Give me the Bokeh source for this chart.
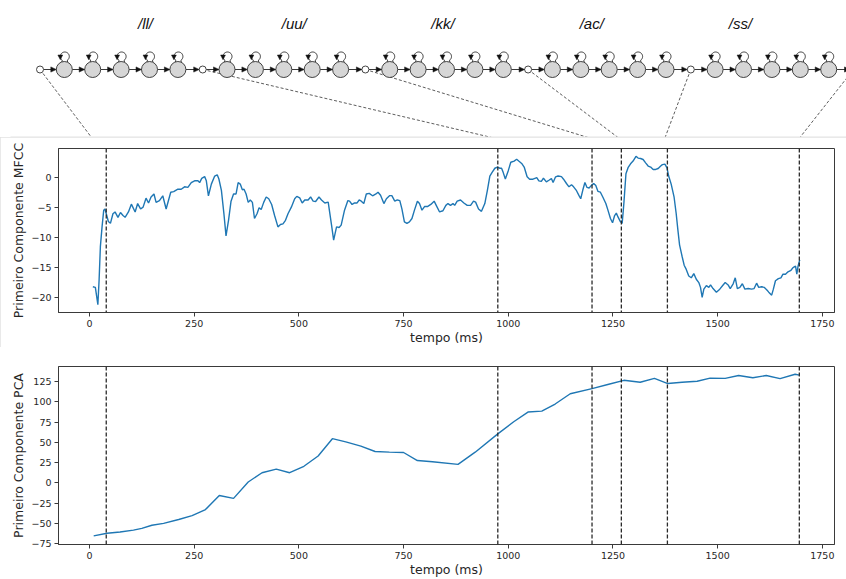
import numpy as np
from bokeh.plotting import figure
from bokeh.layouts import column
from bokeh.models import Range1d, FixedTicker, Span, CustomJSTickFormatter
from bokeh.embed import file_html
from bokeh.resources import INLINE
from bokeh.core.properties import value

# ---------------- data ----------------
phones = ["/ll/", "/uu/", "/kk/", "/ac/", "/ss/"]
states_per_phone = 5
boundaries_ms = [40, 975, 1200, 1270, 1380, 1695]

t_mfcc = [8, 14, 20, 23, 26, 30, 34, 37, 42, 45, 50, 56, 61, 68, 74, 80, 85, 93, 100, 109,
          115, 122, 128, 135, 141, 147, 154, 159, 167, 175, 183, 194, 201, 211, 219, 227, 235, 243, 251, 259,
          263, 268, 275, 279, 284, 291, 299, 305, 309, 315, 321, 326, 332, 338, 344, 350, 355, 360, 365, 369,
          374, 379, 384, 389, 394, 400, 405, 410, 416, 422, 428, 435, 442, 450, 456, 462, 468, 474, 482, 490,
          495, 502, 508, 514, 522, 528, 534, 540, 548, 554, 562, 570, 578, 583, 590, 596, 601, 609, 617, 621,
          627, 633, 639, 644, 649, 655, 661, 668, 676, 684, 689, 695, 703, 709, 717, 722, 729, 735, 741, 746,
          752, 758, 764, 770, 776, 783, 788, 794, 800, 807, 815, 823, 828, 836, 844, 851, 856, 862, 868, 872,
          878, 886, 894, 902, 910, 917, 922, 929, 936, 944, 950, 956, 961, 968, 974, 980, 984, 988, 993, 1000,
          1006, 1014, 1020, 1025, 1032, 1038, 1045, 1051, 1059, 1065, 1068, 1073, 1079, 1084, 1091, 1097, 1103, 1107, 1113, 1119,
          1127, 1132, 1139, 1145, 1151, 1156, 1163, 1169, 1173, 1178, 1183, 1188, 1193, 1198, 1204, 1209, 1214, 1220, 1226, 1233,
          1238, 1244, 1249, 1254, 1258, 1262, 1268, 1272, 1276, 1281, 1286, 1292, 1298, 1305, 1310, 1316, 1322, 1328, 1334, 1340,
          1346, 1352, 1358, 1364, 1368, 1374, 1379, 1383, 1389, 1396, 1401, 1405, 1409, 1415, 1420, 1425, 1431, 1437, 1443, 1449,
          1455, 1459, 1463, 1467, 1473, 1479, 1483, 1489, 1497, 1505, 1513, 1518, 1525, 1530, 1537, 1542, 1547, 1553, 1559, 1565,
          1573, 1581, 1587, 1593, 1598, 1605, 1611, 1617, 1622, 1629, 1633, 1638, 1645, 1651, 1656, 1662, 1668, 1675, 1680, 1686, 1689, 1692, 1696]
mfcc = [-18.2, -18.3, -21.2, -17.0, -11.5, -8.2, -5.4, -5.2, -6.5, -7.3, -7.6, -6.0, -5.7, -6.6, -5.8, -6.3, -6.6, -5.7, -4.4, -5.7,
        -4.3, -5.2, -4.9, -3.4, -4.2, -3.2, -2.7, -4.1, -3.8, -3.0, -5.2, -2.4, -2.3, -1.9, -1.9, -1.5, -1.6, -0.8, -0.5, -0.5,
        -0.8, -0.1, 0.2, -0.5, -3.0, -1.05, 0.3, 0.5, -0.2, -2.1, -6.0, -9.7, -7.1, -3.9, -2.7, -2.7, -0.8, -1.05, -2.0, -1.9,
        -2.7, -4.1, -3.7, -4.1, -6.8, -6.0, -5.0, -5.3, -4.1, -3.2, -3.5, -4.45, -6.3, -8.2, -7.8, -7.7, -7.1, -6.0, -4.9, -3.5,
        -3.1, -3.35, -4.2, -3.7, -3.7, -3.2, -3.9, -3.95, -3.2, -3.7, -4.2, -4.06, -7.9, -10.4, -8.2, -8.3, -7.9, -5.4, -3.8, -3.9,
        -4.45, -4.2, -4.2, -3.7, -3.9, -4.3, -2.7, -2.6, -3.0, -2.7, -2.4, -2.9, -4.3, -3.5, -2.97, -2.97, -3.9, -3.7, -3.8, -5.2,
        -7.35, -7.6, -7.35, -6.8, -5.4, -3.9, -4.3, -5.4, -4.8, -4.8, -4.45, -3.9, -4.6, -5.7, -5.5, -4.6, -4.3, -4.6, -4.3, -4.6,
        -3.9, -3.7, -4.2, -4.6, -4.6, -3.9, -4.06, -5.2, -5.6, -4.3, -2.15, 0.3, 0.87, 1.6, 1.8, 1.6, 1.6, 0.87, -0.2, 1.2,
        2.6, 2.8, 3.1, 2.8, 2.4, 1.8, 0.17, -0.23, -0.23, -0.06, 0.05, -0.5, -0.6, -0.06, -0.67, -0.4, -0.12, -0.78, 0.17, 0.3,
        0.2, -0.23, -0.95, -1.5, -1.16, -1.5, -2.15, -2.97, -3.5, -2.04, -0.78, -1.6, -1.7, -1.3, -0.95, -1.3, -2.26, -2.4, -3.24, -4.3,
        -5.4, -6.8, -7.5, -6.3, -5.9, -6.53, -7.35, -7.6, -4.3, 0.67, 1.7, 2.35, 2.8, 3.6, 3.3, 3.23, 3.06, 2.5, 1.97, 1.8,
        1.4, 1.4, 1.56, 1.97, 2.2, 2.3, 1.67, 0.3, -1.05, -3.24, -6.0, -8.7, -11.2, -13.1, -14.6, -15.3, -16.4, -16.7, -16.0, -16.95,
        -17.5, -18.3, -19.96, -18.6, -18.0, -18.3, -17.9, -18.5, -19.1, -18.6, -17.9, -17.5, -17.9, -18.5, -17.7, -16.7, -18.5, -18.3, -17.7, -18.6,
        -18.5, -18.6, -18.5, -17.6, -18.3, -18.2, -18.3, -18.7, -19.1, -19.6, -18.6, -17.2, -16.85, -16.7, -16.1, -16.1, -15.7, -15.45, -15.0, -14.75, -16.1, -14.75, -13.7]

t_pca = [10, 42, 73, 105, 125, 149, 177, 213, 245, 277,
         310, 344, 379, 412, 446, 478, 512, 546, 580, 612,
         648, 682, 716, 750, 783, 819, 880, 921, 975, 1013,
         1047, 1080, 1112, 1148, 1200, 1240, 1276, 1315, 1349, 1381,
         1415, 1451, 1482, 1518, 1550, 1584, 1616, 1649, 1685, 1695]
pca = [-65.2, -62.0, -60.4, -58.1, -56.0, -52.1, -49.8, -45.0, -40.3, -32.8,
       -15.4, -19.0, 1.2, 12.6, 17.0, 12.6, 20.5, 33.2, 54.5, 50.5,
       45.4, 38.7, 37.9, 37.5, 27.6, 26.1, 22.9, 37.9, 60.4, 75.4,
       87.3, 88.5, 97.2, 109.8, 116.1, 121.6, 126.4, 124.0, 128.8, 122.4,
       124.0, 125.2, 129.1, 128.8, 132.3, 129.5, 132.3, 128.4, 133.9, 132.7]

x_ticks = [0, 250, 500, 750, 1000, 1250, 1500, 1750]
mfcc_ticks = [-20, -15, -10, -5, 0]
pca_ticks = [-75, -50, -25, 0, 25, 50, 75, 100, 125]

assert len(t_mfcc) == len(mfcc) and len(t_pca) == len(pca)

# ---------------- layout constants ----------------
W = 846
FRAME_L, FRAME_R = 58, 834          # chart frames (page px)
LINE_BLUE = "#1f77b4"
AX_COL = "#3a3a3a"
TXT_COL = "#262626"
FONT = "DejaVu Sans"
X_RANGE = (-74.0, 1779.0)

# ---------------- top: HMM diagram (page-pixel coordinate space) ----------------
top = figure(width=W, height=137, x_range=Range1d(0, W), y_range=Range1d(137, 0),
             x_axis_type=None, y_axis_type=None, toolbar_location=None,
             output_backend="svg", min_border=0, outline_line_color=None)
top.xgrid.visible = False
top.ygrid.visible = False

node_y = 69.0
first_x = 39.5
group_step = 162.7
r_gray, r_white = 8.0, 3.5
state_off = 24.3 + 28.4 * np.arange(states_per_phone)
EDGE = "#222222"

white_x = [first_x + g * group_step for g in range(len(phones) + 1)]
gray_x = [white_x[g] + o for g in range(len(phones)) for o in state_off]

chain = []
for g in range(len(phones)):
    chain.append((white_x[g], r_white))
    for o in state_off:
        chain.append((white_x[g] + o, r_gray))
chain.append((white_x[-1], r_white))

# dashed connectors from the word-boundary nodes to the MFCC panel
def mid_px(b):
    return FRAME_L + (b - X_RANGE[0]) / (X_RANGE[1] - X_RANGE[0]) * (FRAME_R - FRAME_L)
conn_end = [1.022 * mid_px(b) - 17.0 for b in boundaries_ms]
top.segment(x0=white_x, y0=[node_y] * len(white_x), x1=conn_end, y1=[137.0] * len(conn_end),
            line_color="#333333", line_width=0.8, line_dash="3 2")

# horizontal arrows
alen, ahw = 5.5, 2.6
ax_xs, ax_ys, head_xs, head_ys = [], [], [], []
for (xa, ra), (xb, rb) in zip(chain[:-1], chain[1:]):
    tip = xb - rb
    ax_xs.append([xa + ra, tip - alen + 0.5])
    ax_ys.append([node_y, node_y])
    head_xs.append([tip, tip - alen, tip - alen])
    head_ys.append([node_y, node_y - ahw, node_y + ahw])
top.multi_line(ax_xs, ax_ys, line_color=EDGE, line_width=0.9)

# self loops
loop_xs, loop_ys, lh_xs, lh_ys = [], [], [], []
th = np.radians(np.linspace(125, 415, 40))
lr = 4.5
for cx in gray_x:
    lcx, lcy = cx + 0.5, node_y - 13.0
    loop_xs.append([cx - 2.6] + list(lcx + lr * np.cos(th)) + [cx + 3.4])
    loop_ys.append([node_y - 7.0] + list(lcy + lr * np.sin(th)) + [node_y - 7.0])
    hx = lcx - lr
    lh_xs.append([hx - 2.4, hx + 2.4, hx])
    lh_ys.append([lcy - 1.5, lcy - 1.5, lcy + 3.2])
top.multi_line(loop_xs, loop_ys, line_color=EDGE, line_width=0.9)

# nodes
top.scatter(x=gray_x, y=[node_y] * len(gray_x), marker="circle", size=2 * r_gray,
            fill_color="#d6d6d6", line_color="#303030", line_width=0.9)
top.scatter(x=white_x, y=[node_y] * len(white_x), marker="circle", size=2 * r_white,
            fill_color="white", line_color="#303030", line_width=0.9)
top.patches(head_xs, head_ys, fill_color="#111111", line_color="#111111", line_width=0.5)
top.patches(lh_xs, lh_ys, fill_color="#111111", line_color="#111111", line_width=0.5)

# top edge of the framed MFCC panel
top.segment(x0=[10], y0=[136.5], x1=[W], y1=[136.5], line_color="#e2e2e2", line_width=1)

label_x = [145 + 148.75 * i for i in range(len(phones))]
top.text(x=label_x, y=[23] * len(phones), text=phones, text_font=value("Liberation Sans"),
         text_font_style="italic", text_font_size="15px", text_align="center",
         text_baseline="middle", text_color="#111111")

# ---------------- shared axis styling ----------------
minus_fmt = CustomJSTickFormatter(code="return tick < 0 ? '\u2212' + Math.abs(tick) : tick.toString();")

def style(p, ylabel, yticks):
    p.xgrid.visible = False
    p.ygrid.visible = False
    p.outline_line_color = AX_COL
    p.outline_line_width = 1
    p.outline_line_alpha = 1
    for ax in (p.xaxis[0], p.yaxis[0]):
        ax.axis_line_color = AX_COL
        ax.major_tick_line_color = AX_COL
        ax.major_tick_in = 0
        ax.major_tick_out = 4
        ax.minor_tick_line_color = None
        ax.major_label_text_font = FONT
        ax.major_label_text_font_size = "9.5px"
        ax.major_label_text_color = TXT_COL
        ax.major_label_standoff = 3
        ax.axis_label_text_font = FONT
        ax.axis_label_text_font_size = "12.5px"
        ax.axis_label_text_font_style = "normal"
        ax.axis_label_text_color = TXT_COL
        ax.axis_label_standoff = 2
    p.xaxis[0].ticker = FixedTicker(ticks=x_ticks)
    p.yaxis[0].ticker = FixedTicker(ticks=yticks)
    p.yaxis[0].formatter = minus_fmt
    p.xaxis[0].axis_label = "tempo (ms)"
    p.xaxis[0].axis_label_standoff = 0
    p.yaxis[0].axis_label = ylabel
    for b in boundaries_ms:
        p.add_layout(Span(location=b, dimension="height", line_color="#2a2a2a",
                          line_dash="4 2", line_width=1.3))

# ---------------- middle: MFCC ----------------
mid = figure(width=W, height=210, x_range=Range1d(*X_RANGE), y_range=Range1d(-22.5, 4.9),
             toolbar_location=None, output_backend="svg",
             min_border_left=FRAME_L, min_border_right=W - FRAME_R, min_border_top=11, min_border_bottom=32)
mid.line(t_mfcc, mfcc, line_color=LINE_BLUE, line_width=1.4)
style(mid, "Primeiro Componente MFCC", mfcc_ticks)
mid.styles = {"outline": "1px solid #e2e2e2", "outline-offset": "-1px"}

# ---------------- bottom: PCA ----------------
bot = figure(width=W, height=232, x_range=Range1d(*X_RANGE), y_range=Range1d(-75.8, 143.4),
             toolbar_location=None, output_backend="svg",
             min_border_left=FRAME_L, min_border_right=W - FRAME_R, min_border_top=19, min_border_bottom=28)
bot.line(t_pca, pca, line_color=LINE_BLUE, line_width=1.4)
style(bot, "Primeiro Componente PCA", pca_ticks)

# the diagram is its own root so that its frame is not aligned with the chart frames
charts = column(mid, bot, spacing=0)
open("out.html", "w").write(file_html([top, charts], INLINE))
